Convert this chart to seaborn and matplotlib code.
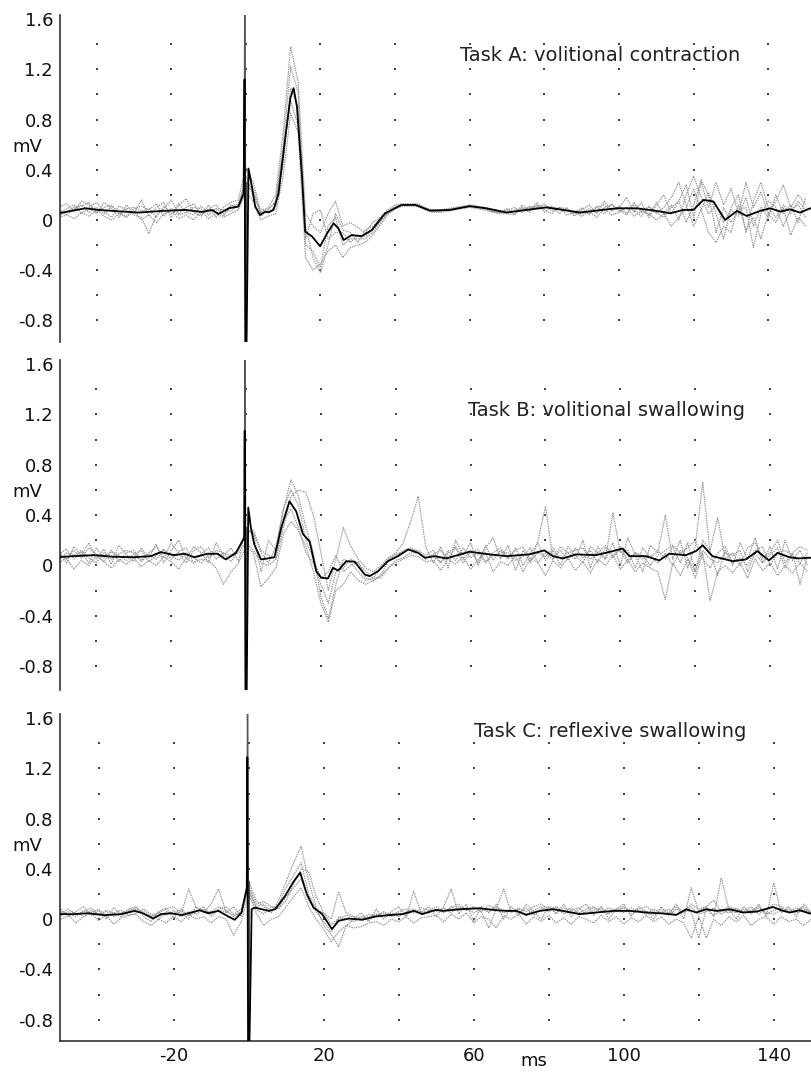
import numpy as np
import pandas as pd
import matplotlib
matplotlib.use("Agg")
import matplotlib.pyplot as plt
import matplotlib.transforms as mtransforms
import seaborn as sns

# ---------------- data ----------------
titles = ["Task A: volitional contraction",
          "Task B: volitional swallowing",
          "Task C: reflexive swallowing"]
title_pos = [(57.4, 1.31), (59.2, 1.23), (60.0, 1.49)]   # (ms, mV) of title left/centre

y_ticks = [-0.8, -0.4, 0, 0.4, 0.8, 1.2, 1.6]
y_ticklabels = ["-0.8", "-0.4", "0", "0.4", "0.8", "1.2", "1.6"]
x_ticks = [-20, 20, 60, 100, 140]
x_ticklabels = ["-20", "20", "60", "100", "140"]

# averaged trace, (ms, mV) pairs, incl. stimulus artifact
mean_A = [(-50.2, .053), (-43, .093), (-39.5, .08), (-33, .067), (-28.7, .059), (-22.5, .072),
          (-16.2, .08), (-11.8, .064), (-9.1, .08), (-7.3, .048), (-4.6, .093), (-2, .107),
          (-0.6, .21), (-0.35, 1.12), (-0.15, -1.1), (0.15, -1.1), (0.7, .41), (1.6, .27),
          (2.5, .107), (3.8, .04), (5.2, .067), (6.1, .06), (7.4, .08), (8.75, .21), (10.5, .64),
          (11.9, .97), (12.8, 1.05), (13.7, .9), (15, .37), (15.9, -.093), (17.7, -.13),
          (19.9, -.21), (21.7, -.11), (23.5, -.027), (24.8, -.067), (26.2, -.16), (28.4, -.12),
          (31, -.13), (33.75, -.08), (37.3, .053), (41.8, .12), (45.4, .12), (49.3, .075),
          (54.7, .08), (60, .11), (64.5, .093), (69.9, .059), (75.2, .08), (80.6, .10),
          (85.1, .08), (89.5, .059), (94, .075), (99.4, .093), (104.7, .093), (110.1, .072),
          (113.7, .053), (117.2, .08), (119.9, .08), (122.6, .16), (125.3, .147), (128.4, .0),
          (131.6, .072), (134.2, .032), (137.8, .072), (140.5, .093), (143.2, .067),
          (145.8, .085), (148.5, .059), (151.2, .093), (153, .08)]

mean_B = [(-50.4, .066), (-46, .074), (-40.6, .082), (-35.3, .069), (-29.9, .066), (-25.4, .074),
          (-22.8, .106), (-19.2, .082), (-16.5, .093), (-13.8, .066), (-10.3, .093), (-7.6, .093),
          (-5.4, .048), (-2.7, .10), (-0.5, .22), (-0.35, 1.07), (-0.15, -1.1), (0.15, -1.1),
          (0.6, .46), (1.3, .30), (2.2, .167), (4, .048), (5.8, .056), (7.6, .066), (9.4, .30),
          (11.6, .51), (13.4, .43), (15.2, .25), (17, .19), (18.75, -.045), (20.1, -.098),
          (21.9, -.103), (23.2, -.019), (24.6, -.04), (26.8, .034), (29, .03), (31.7, -.072),
          (33, -.085), (35.3, -.045), (37.9, .034), (40.6, .074), (43.3, .127), (46, .10),
          (47.8, .061), (50.4, .074), (53.5, .056), (59.7, .109), (65.1, .088), (69.5, .074),
          (75.7, .088), (79.7, .12), (82, .074), (84.6, .056), (88.2, .088), (93.5, .082),
          (98, .114), (100.6, .135), (102.4, .074), (106.8, .074), (110.4, .04), (113.1, .093),
          (117.5, .082), (120.2, .114), (122, .16), (124.6, .074), (130, .034), (133.5, .048),
          (136.6, .114), (139.7, .04), (142, .10), (145.1, .066), (147.7, .056), (150.4, .061),
          (153, .06)]

mean_C = [(-50.5, .04), (-46.5, .04), (-42.9, .047), (-38.5, .032), (-34, .04), (-30.4, .066),
          (-28.2, .047), (-25.5, .005), (-23.3, .04), (-20.6, .047), (-17.9, .032), (-15.3, .053),
          (-13, .071), (-10.8, .047), (-8.1, .066), (-5.4, .021), (-3.7, -.005), (-1.9, .053),
          (-0.5, .25), (-0.35, 1.29), (-0.15, -1.1), (0.15, -1.1), (0.8, .08), (1.7, .092),
          (3.5, .079), (5.3, .066), (7.1, .079), (9.7, .184), (12, .30), (13.75, .37), (15.5, .20),
          (17.3, .092), (19.6, .04), (22.2, -.079), (24, -.013), (26.7, .005), (30.3, -.005),
          (33.8, .021), (37.4, .032), (41, .04), (44.1, .066), (46.3, .04), (49.9, .074),
          (51.8, .066), (56.3, .079), (61.6, .087), (66, .071), (68.7, .066), (71.4, .066),
          (74, .034), (77.6, .066), (81.2, .079), (84.7, .06), (88.3, .04), (92.7, .053),
          (97.2, .066), (101.6, .066), (106, .053), (110.5, .045), (114, .034), (116.7, .079),
          (119.4, .053), (122, .079), (124.7, .066), (128.3, .079), (131.8, .053), (135.4, .06),
          (139.8, .097), (142.5, .066), (144.3, .053), (146.9, .071), (149.6, .045), (153, .05)]

# single trials sampled every 2 ms from -50 to 150 ms
trial_t = np.arange(-50, 151, 2)

trials_A = [
    [.10, .13, .07, .15, .12, .05, .14, .09, .02, .12,  .05, .16, .03, .10, .14, .02, .12, .17, .06, .03,
     .12, .02, .10, .14, .16, .42, .30, .06, .10, .20,  .70, 1.38, 1.10, .05, -.05, -.10, .05, .15, -.05, -.02,
     -.06, -.10, -.02, .02, .08, .12, .13, .13, .13, .10,  .08, .08, .09, .10, .11, .12, .11, .10, .08, .07,
     .07, .08, .09, .10, .11, .11, .10, .09, .08, .07,  .08, .12, .05, .15, .08, .10, .18, .06, .14, .02,
     .12, .20, .05, .15, .28, .02, .30, .10, .30, .12,  .25, .05, .30, .10, .22, .05, .15, .28, .10, .20, .12],
    [.02, .04, .01, .06, .03, .08, .03, .00, .05, .02,  .07, .00, .04, -.02, .05, .08, .01, .04, .00, .07,
     .01, .05, .02, .05, .08, .22, .15, .00, .03, .05,  .35, .85, .70, -.30, -.40, -.35, -.25, -.20, -.30, -.22,
     -.20, -.18, -.12, -.04, .04, .09, .11, .11, .11, .08,  .06, .06, .07, .08, .09, .10, .09, .08, .06, .05,
     .05, .04, .10, .06, .12, .08, .05, .10, .04, .06,  .03, .07, .02, .09, .04, .06, .10, .03, .07, .05,
     .00, .05, -.05, .02, .10, .25, .08, -.10, -.18, -.05,  -.10, .12, -.08, .02, -.15, .05, -.02, .10, -.12, .02, -.05],
    [.06, .09, .12, .05, .10, .14, .07, .02, .11, .08,  .04, .02, -.11, .04, .09, .16, .05, .10, .13, .04,
     .09, .12, .05, .11, .13, .30, .25, .03, .08, .15,  .60, 1.22, 1.02, -.20, -.25, -.38, -.05, .02, -.20, -.15,
     -.15, -.15, -.10, -.02, .05, .10, .12, .12, .12, .09,  .07, .07, .08, .09, .10, .11, .10, .09, .07, .06,
     .09, .04, .12, .07, .14, .06, .11, .05, .10, .03,  .10, .04, .11, .05, .13, .08, .04, .14, .06, .11,
     .05, .10, .18, .30, .12, -.05, .08, .22, .05, -.15,  .10, .20, -.10, .15, .30, .10, .02, .12, .05, .15, .08],
    [.03, .07, .10, .12, .06, .10, .05, .11, .06, .03,  .09, .11, .08, .13, .03, .09, .04, .06, .10, .09,
     .04, .09, .08, .07, .12, .28, .22, .05, .07, .10,  .45, 1.05, .90, -.05, -.30, -.42, -.20, .05, -.08, -.10,
     -.18, -.08, -.05, .01, .06, .11, .12, .12, .12, .09,  .07, .07, .08, .09, .10, .11, .10, .09, .07, .06,
     .06, .07, .08, .09, .10, .10, .09, .08, .07, .06,  .07, .05, .10, .12, .07, .11, .05, .12, .08, .04,
     .14, .05, .12, .00, .20, .35, .18, .05, .12, -.02,  .08, .03, .18, -.05, .10, .02, .20, .05, .12, -.02, .18],
    [.08, .04, .09, .11, .14, .06, .10, .12, .05, .09,  .10, .07, .09, .02, .11, .05, .13, .06, .04, .11,
     .06, .09, .03, .12, .10, .35, .18, .08, .09, .14,  .55, .95, .75, -.15, .05, .08, -.15, -.10, -.10, -.18,
     -.12, -.13, -.08, -.01, .06, .10, .12, .12, .12, .09,  .07, .07, .08, .09, .10, .11, .10, .09, .07, .06,
     .08, .10, .06, .11, .09, .13, .07, .10, .09, .05,  .05, .09, .06, .10, .12, .07, .10, .08, .03, .10,
     .06, .02, .10, .15, -.02, .12, .32, .20, -.10, .10,  -.02, .08, .10, -.22, .05, .15, .10, -.05, .08, .12, .02],
]

trials_B = [
    [.12, .02, .15, .08, .18, .05, .13, .01, .16, .09,  .03, .14, .06, .17, .02, .12, .20, .05, .15, .10,
     .02, .18, .08, .14, .03, .30, .25, -.05, .20, .12,  .45, .68, .55, .30, .10, -.25, -.42, -.15, .05, .02,
     -.05, -.12, -.10, -.02, .05, .10, .18, .35, .55, .15,  .02, .15, -.02, .20, .08, .18, .00, .14, .22, .05,
     .16, -.04, .12, .02, .20, .47, .05, .15, .10, .05,  .20, -.02, .15, .05, .18, .00, .22, .08, -.05, .16,
     .10, .40, .05, .20, -.02, .15, .66, .10, -.08, .12,  .00, .18, .05, .22, .02, .15, -.03, .20, .04, .12, .00],
    [.02, .06, -.03, .04, .00, .08, .03, -.02, .05, .01,  .06, -.01, .04, .00, .07, .03, -.03, .06, .02, .05,
     .04, -.02, -.15, -.05, .02, .15, .10, -.17, -.10, -.02,  .25, .35, .28, .15, -.05, -.30, -.45, -.20, -.15, -.05,
     -.12, -.15, -.12, -.08, -.02, .02, .05, .08, .07, .03,  .04, -.04, .05, .01, .07, -.03, .05, .10, -.05, .03,
     .00, .08, -.05, .06, .02, -.08, .04, -.02, .06, -.04,  .03, -.06, .05, .00, .08, -.03, .04, -.05, .02, -.02,
     -.05, -.27, .02, -.08, .05, -.10, .10, -.28, -.05, .00,  -.06, .02, -.10, .05, -.04, .02, -.08, .00, -.06, .02, -.05],
    [.09, .13, .05, .11, .02, .14, .06, .12, .03, .10,  .12, .04, .10, .15, .06, .18, .10, .02, .12, .15,
     .06, .12, .10, .03, .12, .25, .28, .12, .08, .05,  .30, .55, .60, .58, .40, .10, -.20, .05, .30, .15,
     .05, -.02, -.05, .00, .06, .09, .10, .13, .12, .08,  .12, .02, .10, .15, .05, .12, .02, .16, .04, .12,
     .05, .14, .00, .10, .18, .04, .12, .00, .15, .08,  .02, .15, .10, .05, .42, .10, .12, -.02, .14, .06,
     .12, .05, .15, .02, .18, -.05, .20, .12, .38, .05,  .10, .00, .14, .18, .06, .10, .20, .02, .10, .15, .12],
    [.10, .05, .12, .06, .14, .09, .03, .11, .08, .04,  .09, .12, .03, .08, .13, .05, .11, .14, .02, .09,
     .14, .05, .10, .08, .13, .28, .26, .10, .02, .15,  .45, .60, .48, .20, .05, -.10, -.05, .08, -.05, .00,
     .03, -.10, -.12, -.08, .04, .08, .12, .14, .10, .05,  .09, .12, .06, .14, .02, .10, .13, .03, .10, .14,
     .06, .12, .15, .04, .10, .07, .14, .05, .10, .12,  .14, .05, .10, .16, .08, .12, .02, .10, .08, .00,
     .08, .12, .16, .10, .14, .20, .05, -.02, .10, .15,  .02, .06, .00, .12, .15, .00, .10, .12, .08, .02, .10],
    [.04, .10, .08, .12, .06, .02, .10, .05, .09, .12,  .10, .03, .09, .05, .12, .08, .04, .10, .06, .02,
     .08, .10, .05, .07, .10, .18, .12, .02, .00, .05,  .35, .45, .30, .10, .02, -.15, -.30, -.05, -.02, .05,
     .02, -.05, -.10, -.10, -.02, .04, .06, .10, .10, .06,  .08, .02, .12, .04, .14, .06, .10, .02, .08, .10,
     .10, .04, .07, .14, .02, .10, .05, .12, .04, .14,  .06, .12, .02, .14, .06, .15, .04, .10, .05, .08,
     .02, .10, .00, .12, .06, -.05, .12, .05, .02, .10,  .08, .12, -.05, .10, .02, .08, .14, -.02, .10, -.15, .08],
]

trials_C = [
    [.08, .02, .06, .10, .03, .07, .00, .09, .04, .08,  .10, .02, -.02, .06, .09, .01, .07, .00, .10, .05,
     .12, .24, .05, .10, .02, .30, .15, .10, .05, .15,  .30, .45, .58, .30, .10, -.05, -.12, -.22, -.05, .00,
     .05, -.02, .08, .00, .06, .10, .02, .22, .05, .10,  .02, .10, .24, .04, .12, -.02, .10, .05, .12, .00,
     .10, .03, .12, .06, .00, .10, .04, .12, .02, .08,  .12, .03, .10, .00, .08, .12, .02, .10, .06, .00,
     .10, .04, .12, .00, .25, .06, .10, .02, .33, .08,  .00, .10, .04, .12, .02, .29, .05, .10, .02, .12, .05],
    [.00, .03, -.03, .02, .05, -.01, .03, -.04, .01, .03,  .04, -.02, -.05, .00, -.03, .02, -.02, .04, .00, .02,
     -.03, .02, .00, -.13, -.02, .20, .05, -.05, .00, .02,  .10, .18, .25, .10, .00, -.08, -.18, -.10, -.05, -.07,
     -.06, -.03, -.02, -.05, .00, -.02, .02, -.03, .01, .02,  .03, -.02, .04, .00, .05, -.03, .02, .00, -.07, .03,
     .00, .04, -.04, .02, -.02, .03, -.03, .01, -.04, .02,  .00, -.03, .03, -.02, .02, -.04, .01, -.02, .03, -.02,
     .02, -.04, .00, -.03, -.15, .02, -.15, .00, -.05, .02,  -.02, .03, -.05, .00, .02, -.04, .02, -.02, .00, -.05, .00],
    [.05, .08, .04, .06, .09, .03, .07, .05, .02, .06,  .08, .06, .03, .05, .08, .10, .04, .24, .09, .06,
     .06, .10, .07, .02, .06, .26, .12, .14, .10, .08,  .15, .28, .40, .38, .18, .05, .00, .22, .05, .02,
     .00, .04, .02, .06, .03, .06, .08, .05, .09, .07,  .10, .06, .09, .12, .07, .10, .06, .11, .08, .24,
     .05, .09, .06, .10, .12, .08, .10, .06, .09, .05,  .08, .10, .05, .09, .07, .10, .06, .08, .10, .06,
     .08, .05, .10, .06, .12, .08, .10, .15, .06, .10,  .08, .06, .10, .04, .08, .12, .10, .06, .09, .08, .06],
    [.03, .06, .05, .02, .07, .04, .06, .02, .05, .07,  .09, .04, .02, .05, .03, .07, .02, .06, .04, .08,
     .04, .07, .06, .03, .05, .24, .10, .12, .06, .12,  .25, .35, .45, .20, .08, .05, -.04, .00, .03, .02,
     .00, .02, .04, .03, .05, .02, .06, .08, .04, .07,  .06, .09, .05, .10, .07, .09, .06, -.07, .08, .05,
     .07, .05, .09, .03, .08, .10, .05, .09, .07, .04,  .06, .09, .07, .04, .08, .05, .09, .06, .04, .08,
     .05, .08, .03, .07, .06, -.15, .08, .03, .07, .05,  .09, .05, .07, .10, .04, .07, .09, .05, .07, .10, .04],
    [.06, .04, .02, .07, .05, .08, .02, .05, .07, .03,  .05, .08, .04, .00, .06, .04, .08, .03, .06, .10,
     .02, .08, .10, .04, .08, .22, .08, .04, .10, .09,  .18, .25, .32, .15, .06, -.02, -.10, .02, .00, -.02,
     .02, .00, .03, .05, .02, .05, .03, .07, .06, .05,  .08, .05, .10, .07, .09, .05, .08, .06, .10, .07,
     .06, .08, .04, .07, .10, .06, .09, .04, .07, .09,  .04, .07, .09, .05, .06, .09, .04, .07, .06, .03,
     .06, .03, .08, .05, .10, .04, .06, .09, .04, .07,  .05, .08, .06, .09, .05, .04, .07, .08, .05, .07, .05],
]

# stimulus artifact of the single trials (ms, mV)
stim_t = [-0.45, -0.3, 0.05, 0.2]
stim_v = [0.2, 1.8, -1.1, 0.3]

means = [mean_A, mean_B, mean_C]
trials = [trials_A, trials_B, trials_C]

# ---------------- layout ----------------
W, H = 812, 1073
panel_px = [(15.4, 341.7), (360.4, 690.0), (714.4, 1041.0)]   # top/bottom pixel rows
xlims = [(-49.8, 151.7), (-49.7, 151.2), (-50.3, 150.2)]
ylims = [(-0.97, 1.63), (-0.99, 1.63), (-0.97, 1.63)]

sns.set_style("white")
plt.rcParams["font.family"] = ["DejaVu Sans"]
plt.rcParams["axes.unicode_minus"] = False

fig = plt.figure(figsize=(W / 100, H / 100), dpi=100)
grid_x = np.arange(-40, 150, 20)
grid_y = np.arange(-0.8, 1.5, 0.2)

for i in range(3):
    top, bot = panel_px[i]
    ax = fig.add_axes([60 / W, 1 - bot / H, 1 - 60 / W, (bot - top) / H])
    ax.set_facecolor("white")

    # dotted grid (one dot per grid intersection)
    gx, gy = np.meshgrid(grid_x, grid_y)
    ax.scatter(gx.ravel(), gy.ravel(), s=1.2, color="#444444", marker="s",
               linewidths=0, zorder=1)

    # single trials
    rows = []
    for k, tr in enumerate(trials[i]):
        for t, v in zip(trial_t, tr):
            rows.append({"t": t, "mV": v, "trial": k})
    df = pd.DataFrame(rows)
    sns.lineplot(data=df, x="t", y="mV", units="trial", estimator=None,
                 color="#949494", lw=0.85, linestyle=(0, (1.2, 0.8)), ax=ax, zorder=2)
    sns.lineplot(x=stim_t, y=stim_v, color="#555555", lw=1.0, ax=ax,
                 estimator=None, sort=False, zorder=2)

    # averaged trace
    mt = [p[0] for p in means[i]]
    mv = [p[1] for p in means[i]]
    sns.lineplot(x=mt, y=mv, color="black", lw=1.3, ax=ax, estimator=None,
                 sort=False, zorder=3)

    ax.set_xlim(*xlims[i])
    ax.set_ylim(*ylims[i])
    ax.set_xlabel("")
    ax.set_ylabel("")

    for s in ["top", "right"]:
        ax.spines[s].set_visible(False)
    ax.spines["left"].set_color("#333333")
    ax.spines["left"].set_linewidth(1.2)

    ax.set_yticks(y_ticks)
    ax.set_yticklabels(y_ticklabels)
    ax.set_yticks(np.arange(-0.8, 1.61, 0.2), minor=True)
    ax.tick_params(axis="y", which="major", direction="out", length=3, width=1,
                   color="#333333", labelsize=13, pad=2, labelcolor="#111111")
    ax.tick_params(axis="y", which="minor", direction="out", length=2, width=1,
                   color="#333333")

    if i < 2:
        ax.spines["bottom"].set_visible(False)
        ax.set_xticks([])
    else:
        ax.spines["bottom"].set_color("#333333")
        ax.spines["bottom"].set_linewidth(1.2)
        ax.set_xticks(x_ticks)
        ax.set_xticklabels(x_ticklabels)
        ax.set_xticks([-40, 0, 40, 80, 120], minor=True)
        ax.tick_params(axis="x", which="both", direction="in", length=4, width=1,
                       color="#333333", labelsize=13, pad=4, labelcolor="#111111")
        ms_tr = mtransforms.blended_transform_factory(ax.transData, ax.transAxes)
        ax.text(76, -0.062, "ms", transform=ms_tr, ha="center", va="center",
                fontsize=13, color="#111111")

    # mV label
    mv_tr = mtransforms.blended_transform_factory(ax.transAxes, ax.transData)
    ax.text(-0.043, 0.58, "mV", transform=mv_tr, ha="center", va="center",
            fontsize=13, color="#111111")

    # task title
    tx, ty = title_pos[i]
    ax.text(tx, ty, titles[i], ha="left", va="center", fontsize=14, color="#222222")

fig.savefig("out.png", dpi=100, facecolor="white")
